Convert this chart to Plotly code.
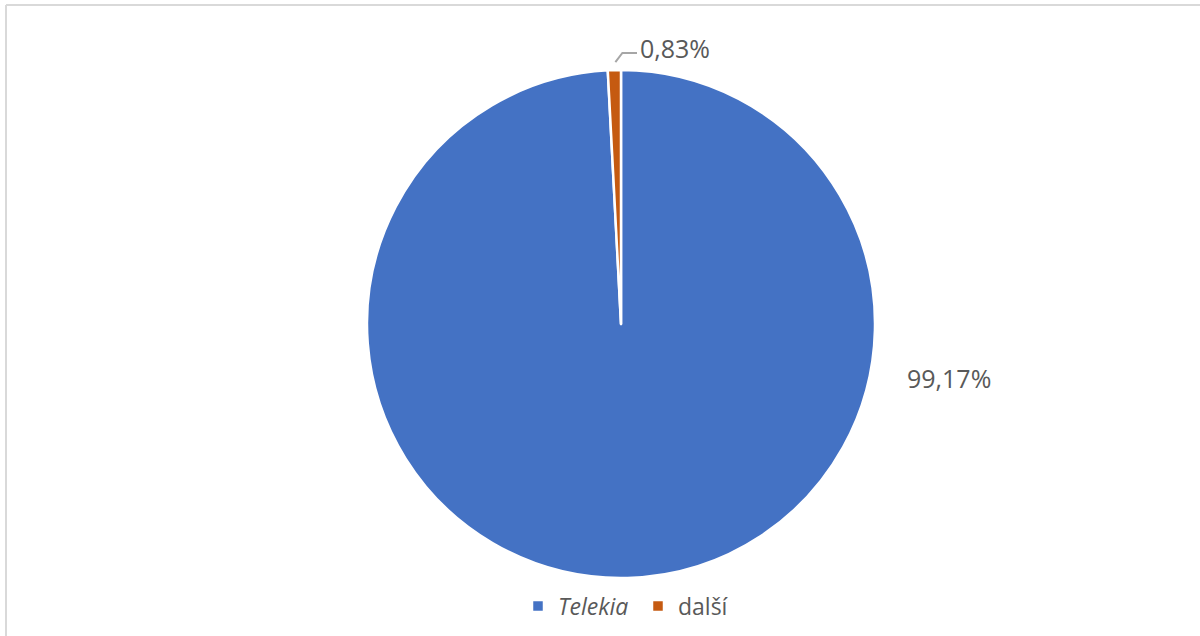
import math
import plotly.graph_objects as go

# ---- data ----
labels = ["Telekia", "další"]
legend_labels = ["<i>Telekia</i>", "další"]
values = [99.17, 0.83]
colors = ["#4472C4", "#C55A11"]

W, H = 1200, 636
cx, cy, r = 621, 324, 254   # pie centre and radius in pixels

def fmt(v):
    return f"{v:.2f}".replace(".", ",") + "%"

fig = go.Figure(go.Pie(
    labels=legend_labels,
    values=values,
    sort=False,
    direction="clockwise",
    rotation=0,
    marker=dict(colors=colors, line=dict(color="white", width=2.5)),
    textinfo="none",
    hoverinfo="label+percent",
    domain=dict(x=[(cx - r) / W, (cx + r) / W], y=[1 - (cy + r) / H, 1 - (cy - r) / H]),
))

total = sum(values)
label_font = dict(family="Open Sans, Noto Sans, sans-serif", size=25, color="#595959")

# label for the big slice (placed to the right, like Excel's best fit)
fig.add_annotation(
    x=949 / W, y=1 - 378 / H, xref="paper", yref="paper",
    text=fmt(values[0]), showarrow=False, font=label_font,
    xanchor="center", yanchor="middle",
)

# label for the small slice with a leader line
start = values[0] / total
mid = (start + values[1] / total / 2) * 2 * math.pi
px = cx + r * math.sin(mid)
py = cy - r * math.cos(mid)
fig.add_shape(
    type="path", xref="paper", yref="paper",
    path=f"M {(px + 1) / W},{1 - (py - 8) / H} L {(px + 8) / W},{1 - 53 / H} L {637 / W},{1 - 53 / H}",
    line=dict(color="#A6A6A6", width=2),
)
fig.add_annotation(
    x=638 / W, y=1 - 48 / H, xref="paper", yref="paper",
    text=fmt(values[1]), showarrow=False, font=label_font,
    xanchor="left", yanchor="middle",
)

# chart frame
fig.add_shape(type="line", xref="paper", yref="paper",
              x0=6 / W, y0=1 - 5 / H, x1=1, y1=1 - 5 / H,
              line=dict(color="#D9D9D9", width=2))
fig.add_shape(type="line", xref="paper", yref="paper",
              x0=6 / W, y0=1 - 5 / H, x1=6 / W, y1=0,
              line=dict(color="#D9D9D9", width=2))

fig.update_layout(
    width=W, height=H,
    margin=dict(l=0, r=0, t=0, b=0),
    paper_bgcolor="white",
    plot_bgcolor="white",
    showlegend=True,
    legend=dict(
        orientation="h", x=518 / W, y=1 - 606 / H, xanchor="left", yanchor="middle",
        font=dict(family="Open Sans, Noto Sans, sans-serif", size=23, color="#595959"),
        itemwidth=30, entrywidth=75, entrywidthmode="pixels", traceorder="normal",
    ),
)

fig.write_html("out.html", config={"displayModeBar": False},
               post_script="document.body.style.margin='0px';")
